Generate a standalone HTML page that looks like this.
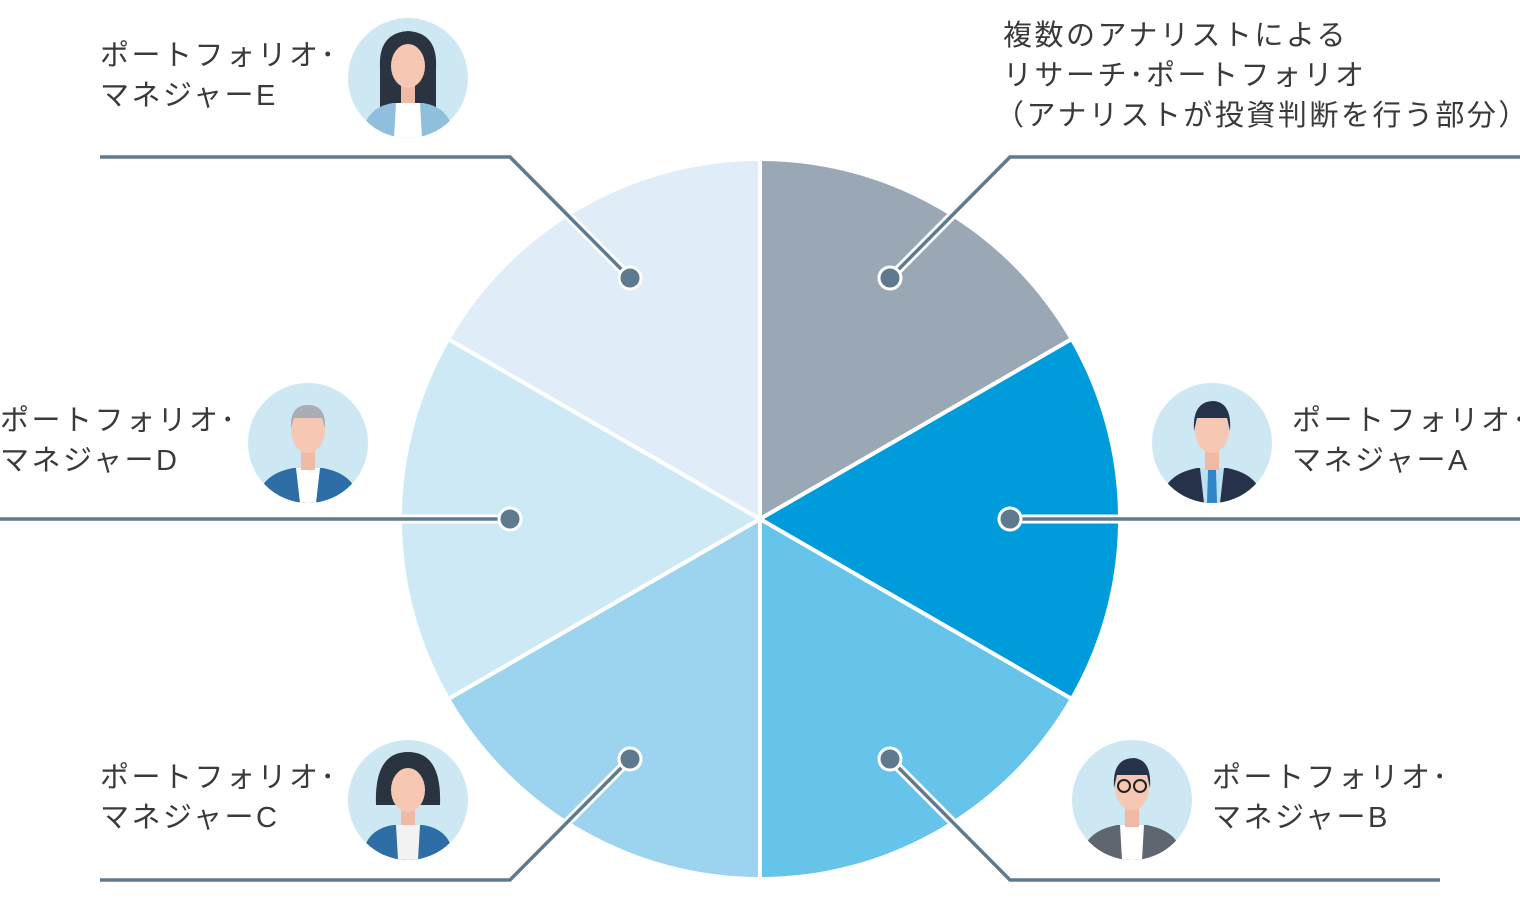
<!DOCTYPE html>
<html><head><meta charset="utf-8"><style>
html,body{margin:0;padding:0;background:#fff;}
svg{display:block}
text{font-family:"Liberation Sans","Noto Sans CJK JP",sans-serif;font-size:29px;fill:#3a3a3a;letter-spacing:2.5px}
</style></head><body>
<svg width="1520" height="904" viewBox="0 0 1520 904">
<g stroke="#fff" stroke-width="4" stroke-linejoin="round">
<path d="M760,519 L760,159 A360,360 0 0 1 1071.8,339 Z" fill="#9aa8b6"/>
<path d="M760,519 L1071.8,339 A360,360 0 0 1 1071.8,699 Z" fill="#009bdb"/>
<path d="M760,519 L1071.8,699 A360,360 0 0 1 760,879 Z" fill="#66c3ea"/>
<path d="M760,519 L760,879 A360,360 0 0 1 448.2,699 Z" fill="#9cd4ef"/>
<path d="M760,519 L448.2,699 A360,360 0 0 1 448.2,339 Z" fill="#cde9f6"/>
<path d="M760,519 L448.2,339 A360,360 0 0 1 760,159 Z" fill="#e0ecf7"/>
</g>
<g fill="none" stroke="#fff" stroke-width="9">
<polyline points="890,278 1010,157 1520,157"/>
<polyline points="1010,519 1520,519"/>
<polyline points="890,759 1010,880 1440,880"/>
<polyline points="630,759 510,880 100,880"/>
<polyline points="510,519 0,519"/>
<polyline points="630,278 510,157 100,157"/>
</g>
<g fill="none" stroke="#5f7a8f" stroke-width="3.5">
<polyline points="890,278 1010,157 1520,157"/>
<polyline points="1010,519 1520,519"/>
<polyline points="890,759 1010,880 1440,880"/>
<polyline points="630,759 510,880 100,880"/>
<polyline points="510,519 0,519"/>
<polyline points="630,278 510,157 100,157"/>
</g>
<g fill="#5f7a8f" stroke="#fff" stroke-width="3">
<circle cx="890" cy="278" r="11"/><circle cx="1010" cy="519" r="11"/><circle cx="890" cy="759" r="11"/>
<circle cx="630" cy="759" r="11"/><circle cx="510" cy="519" r="11"/><circle cx="630" cy="278" r="11"/>
</g>
<defs>
<clipPath id="c"><circle cx="0" cy="0" r="60"/></clipPath>
</defs>
<g transform="translate(408,78)"><circle r="60" fill="#cde8f2"/><g clip-path="url(#c)">
<path d="M-28,-10 Q-30,-45 0,-47 Q30,-45 28,-10 L28,30 L-28,30Z" fill="#2a3440"/>
<path d="M-45,60 Q-45,30 -15,25 L15,25 Q45,30 45,60Z" fill="#8fbfdd"/><path d="M-12,25 L12,25 L14,60 L-14,60Z" fill="#fff"/>
<rect x="-7" y="5" width="14" height="20" fill="#f0b9a4"/><ellipse cx="0" cy="-12" rx="17" ry="22" fill="#f6c8b4"/></g></g>
<g transform="translate(308,443)"><circle r="60" fill="#cde8f2"/><g clip-path="url(#c)">
<path d="M-50,60 Q-50,32 -15,25 L15,25 Q50,32 50,60Z" fill="#2e6ea6"/><path d="M-12,25 L12,25 L8,60 L-8,60Z" fill="#fff"/>
<rect x="-7" y="5" width="14" height="22" fill="#f0b9a4"/><ellipse cx="0" cy="-12" rx="17" ry="22" fill="#f6c8b4"/>
<path d="M-17,-15 Q-18,-38 0,-38 Q18,-38 17,-15 L14,-25 L-14,-25Z" fill="#a7adb3"/></g></g>
<g transform="translate(408,800)"><circle r="60" fill="#cde8f2"/><g clip-path="url(#c)">
<path d="M-32,5 Q-34,-48 0,-48 Q34,-48 32,5 L20,5 L-20,5Z" fill="#2a3440"/>
<path d="M-45,60 Q-45,30 -15,25 L15,25 Q45,30 45,60Z" fill="#2e6ea6"/><path d="M-12,25 L12,25 L10,60 L-10,60Z" fill="#f2f2f2"/>
<rect x="-7" y="5" width="14" height="20" fill="#f0b9a4"/><ellipse cx="0" cy="-10" rx="17" ry="22" fill="#f6c8b4"/></g></g>
<g transform="translate(1212,443)"><circle r="60" fill="#cde8f2"/><g clip-path="url(#c)">
<path d="M-50,60 Q-50,32 -15,25 L15,25 Q50,32 50,60Z" fill="#26324a"/><path d="M-12,25 L12,25 L8,60 L-8,60Z" fill="#bfe0f2"/><path d="M-4,27 L4,27 L5,60 L-5,60Z" fill="#2e86c8"/>
<rect x="-7" y="5" width="14" height="22" fill="#f0b9a4"/><ellipse cx="0" cy="-12" rx="17" ry="22" fill="#f6c8b4"/>
<path d="M-18,-12 Q-20,-42 2,-42 Q20,-40 18,-12 L15,-25 L-15,-25Z" fill="#26324a"/></g></g>
<g transform="translate(1132,800)"><circle r="60" fill="#cde8f2"/><g clip-path="url(#c)">
<path d="M-50,60 Q-50,32 -15,25 L15,25 Q50,32 50,60Z" fill="#5e6670"/><path d="M-12,25 L12,25 L10,60 L-10,60Z" fill="#fff"/>
<rect x="-7" y="5" width="14" height="22" fill="#f0b9a4"/><ellipse cx="0" cy="-12" rx="17" ry="22" fill="#f6c8b4"/>
<path d="M-18,-12 Q-20,-42 2,-42 Q20,-40 18,-12 L15,-25 L-15,-25Z" fill="#26324a"/>
<circle cx="-8" cy="-14" r="6" fill="none" stroke="#222" stroke-width="2"/><circle cx="8" cy="-14" r="6" fill="none" stroke="#222" stroke-width="2"/></g></g>
<text x="100" y="65">ポートフォリオ･</text><text x="100" y="105">マネジャーE</text>
<text x="0" y="430">ポートフォリオ･</text><text x="0" y="470">マネジャーD</text>
<text x="100" y="787">ポートフォリオ･</text><text x="100" y="827">マネジャーC</text>
<text x="1292" y="430">ポートフォリオ･</text><text x="1292" y="470">マネジャーA</text>
<text x="1212" y="787">ポートフォリオ･</text><text x="1212" y="827">マネジャーB</text>
<text x="1003" y="45">複数のアナリストによる</text>
<text x="1003" y="85">リサーチ･ポートフォリオ</text>
<text x="995" y="125">（アナリストが投資判断を行う部分）</text>
</svg>
</body></html>
